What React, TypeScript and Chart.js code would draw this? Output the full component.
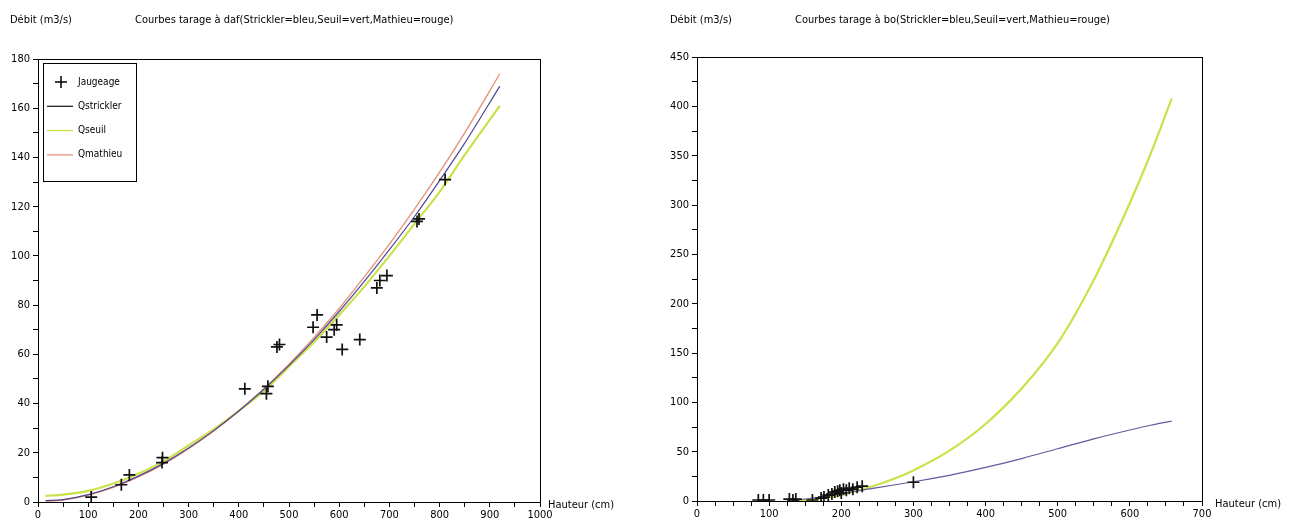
import { useEffect, useRef } from "react";
import { Chart, registerables } from "chart.js";

Chart.register(...registerables);

const FONT = '"Liberation Sans Narrow", "DejaVu Sans Condensed", "Arial Narrow", sans-serif';

// ---- Station daf : rating curves (hauteur en cm, débit en m3/s) ----
const dafHauteur = [15, 50, 100, 150, 200, 250, 300, 350, 400, 450, 500, 550, 600, 650, 700, 750, 800, 850, 920];
const dafQseuil = [2.5, 3, 4.5, 7.5, 11.5, 16.5, 23, 29.5, 37, 45, 55, 65, 76, 87.5, 100, 113, 126, 141, 161];
const dafQstrickler = [0.6, 1, 3, 6.2, 10.5, 15.7, 21.9, 29, 37, 45.8, 55.5, 66, 77.4, 89.6, 102.5, 116, 130.6, 145.8, 169];
const dafQmathieu = [0.2, 0.8, 2.8, 6, 10.2, 15.4, 21.7, 28.9, 37, 46, 56, 66.9, 78.6, 91.5, 104.8, 119, 134, 150, 174];

// Jaugeages (gaugings) at daf
const dafJaugeageH = [106, 166, 182, 247, 248, 412, 455, 458, 476, 481, 548, 556, 575, 590, 595, 606, 641, 675, 681, 695, 755, 759, 811];
const dafJaugeageQ = [2, 7, 11, 16, 18, 46, 44, 47, 63, 64, 71, 76, 67, 70, 72, 62, 66, 87, 90, 92, 114, 115, 131];

// ---- Station bo ----
const boHauteur = [130, 150, 175, 200, 225, 250, 275, 300, 350, 400, 450, 500, 550, 600, 630, 658];
const boQseuil = [0, 0.8, 3, 6.5, 11, 16.5, 23, 31, 51, 78, 114, 160, 224, 302, 354, 408];
const boQstrickler = [0, 2, 4.5, 7.5, 10.5, 13.5, 16.5, 19.5, 26, 34, 43, 53, 63, 72, 77, 81];

const boJaugeageH = [85, 92, 100, 128, 133, 137, 160, 172, 176, 182, 187, 191, 195, 198, 200, 203, 207, 211, 216, 222, 229, 300];
const boJaugeageQ = [1, 1, 1, 2, 1, 2, 1, 3, 4, 6, 7, 9, 10, 11, 8, 12, 11, 13, 12, 14, 15, 19];

// ---- Axis ticks ----
const dafXLabels = [0, 100, 200, 300, 400, 500, 600, 700, 800, 900, 1000];
const dafYLabels = [0, 20, 40, 60, 80, 100, 120, 140, 160, 180];
const boXLabels = [0, 100, 200, 300, 400, 500, 600, 700];
const boYLabels = [0, 50, 100, 150, 200, 250, 300, 350, 400, 450];

const COL_STRICKLER = "#4e4890";
const COL_SEUIL = "#cde04a";
const COL_MATHIEU = "#e8937c";

const pairs = (xs: number[], ys: number[]) => xs.map((x, i) => ({ x, y: ys[i] }));

type Texts = {
  yTitleX: number;
  titleX: number;
  title: string;
  xTitleX: number;
  legend: boolean;
};

function makeAnnotationPlugin(t: Texts) {
  return {
    id: "annotations",
    afterDraw(chart: any) {
      const ctx = chart.ctx as CanvasRenderingContext2D;
      const a = chart.chartArea;
      ctx.save();
      // plot frame
      ctx.strokeStyle = "#000";
      ctx.lineWidth = 1;
      ctx.strokeRect(Math.round(a.left) + 0.5, Math.round(a.top) + 0.5, Math.round(a.right - a.left), Math.round(a.bottom - a.top));

      ctx.fillStyle = "#000";
      ctx.font = `11px ${FONT}`;
      ctx.textBaseline = "middle";
      ctx.textAlign = "left";
      ctx.fillText("Débit (m3/s)", t.yTitleX, 20);
      ctx.fillText(t.title, t.titleX, 20);
      const y0 = chart.scales.y.getPixelForValue(0);
      ctx.fillText("Hauteur (cm)", t.xTitleX, y0 + 3);

      if (t.legend) {
        const bx = 43.5, by = 63.5, bw = 93, bh = 118;
        ctx.fillStyle = "#fff";
        ctx.fillRect(bx, by, bw, bh);
        ctx.strokeStyle = "#000";
        ctx.strokeRect(bx, by, bw, bh);
        const entries = [...chart.data.datasets].sort((p: any, q: any) => (p.legendIndex ?? 0) - (q.legendIndex ?? 0));
        entries.forEach((ds: any, i: number) => {
          const cy = 82 + i * 24.3;
          if (ds.showLine === false) {
            ctx.strokeStyle = "#000";
            ctx.lineWidth = 1.5;
            ctx.beginPath();
            ctx.moveTo(55, cy);
            ctx.lineTo(67, cy);
            ctx.moveTo(61, cy - 6);
            ctx.lineTo(61, cy + 6);
            ctx.stroke();
          } else {
            ctx.strokeStyle = ds.legendColor || ds.borderColor;
            ctx.lineWidth = 1.3;
            ctx.beginPath();
            ctx.moveTo(47, cy);
            ctx.lineTo(73, cy);
            ctx.stroke();
          }
          ctx.fillStyle = "#000";
          ctx.font = `10px ${FONT}`;
          ctx.fillText(ds.label, 78, cy);
        });
      }
      ctx.restore();
    },
  };
}

function lineSet(label: string, xs: number[], ys: number[], color: string, width: number, order: number, legendIndex: number, legendColor?: string) {
  return {
    label,
    data: pairs(xs, ys),
    showLine: true,
    borderColor: color,
    backgroundColor: color,
    borderWidth: width,
    pointRadius: 0,
    cubicInterpolationMode: "monotone" as const,
    order,
    legendIndex,
    legendColor,
  };
}

function gaugingSet(xs: number[], ys: number[]) {
  return {
    label: "Jaugeage",
    data: pairs(xs, ys),
    showLine: false,
    pointStyle: "cross",
    pointRadius: 6,
    borderColor: "#111",
    backgroundColor: "#111",
    pointBorderWidth: 1.7,
    order: 0,
    legendIndex: 0,
    clip: 0,
  };
}

function axes(xMax: number, xStep: number, xLabels: number[], yMax: number, yStep: number, yLabels: number[]) {
  const common = {
    type: "linear" as const,
    min: 0,
    border: { display: true, color: "#000", width: 1 },
    grid: { display: true, drawOnChartArea: false, drawTicks: true, tickLength: 5, color: "#000", tickColor: "#000" },
  };
  return {
    x: {
      ...common,
      max: xMax,
      ticks: {
        stepSize: xStep,
        autoSkip: false,
        maxRotation: 0,
        padding: 2,
        color: "#000",
        font: { family: FONT, size: 11 },
        callback: (v: any) => (xLabels.includes(Number(v)) ? String(v) : ""),
      },
      afterFit: (s: any) => {
        s.height = 21;
      },
    },
    y: {
      ...common,
      max: yMax,
      ticks: {
        stepSize: yStep,
        autoSkip: false,
        padding: 3,
        color: "#000",
        font: { family: FONT, size: 11 },
        callback: (v: any) => (yLabels.includes(Number(v)) ? String(v) : ""),
      },
      afterFit: (s: any) => {
        s.width = 38;
      },
    },
  };
}

function ChartCanvas({ width, config }: { width: number; config: any }) {
  const ref = useRef<HTMLCanvasElement | null>(null);
  useEffect(() => {
    if (!ref.current) return;
    const chart = new Chart(ref.current, config);
    return () => chart.destroy();
  }, []);
  return <canvas ref={ref} width={width} height={523} style={{ display: "block", width, height: 523 }} />;
}

export default function App() {
  const dafConfig = {
    type: "scatter",
    data: {
      datasets: [
        gaugingSet(dafJaugeageH, dafJaugeageQ),
        lineSet("Qstrickler", dafHauteur, dafQstrickler, COL_STRICKLER, 1.2, 1, 1, "#222"),
        lineSet("Qseuil", dafHauteur, dafQseuil, COL_SEUIL, 2.2, 3, 2),
        lineSet("Qmathieu", dafHauteur, dafQmathieu, COL_MATHIEU, 1.4, 2, 3),
      ],
    },
    options: {
      responsive: false,
      animation: false,
      devicePixelRatio: 1,
      layout: { padding: { left: 0, right: 105, top: 59, bottom: 0 } },
      plugins: { legend: { display: false }, tooltip: { enabled: false }, title: { display: false } },
      scales: axes(1000, 50, dafXLabels, 180, 10, dafYLabels),
    },
    plugins: [
      makeAnnotationPlugin({
        yTitleX: 10,
        titleX: 135,
        title: "Courbes tarage à daf(Strickler=bleu,Seuil=vert,Mathieu=rouge)",
        xTitleX: 548,
        legend: true,
      }),
    ],
  };

  const boConfig = {
    type: "scatter",
    data: {
      datasets: [
        gaugingSet(boJaugeageH, boJaugeageQ),
        lineSet("Qstrickler", boHauteur, boQstrickler, "#5f5ca0", 1.2, 1, 1),
        lineSet("Qseuil", boHauteur, boQseuil, COL_SEUIL, 2.2, 3, 2),
      ],
    },
    options: {
      responsive: false,
      animation: false,
      devicePixelRatio: 1,
      layout: { padding: { left: 14, right: 89, top: 57, bottom: 1 } },
      plugins: { legend: { display: false }, tooltip: { enabled: false }, title: { display: false } },
      scales: axes(700, 25, boXLabels, 450, 25, boYLabels),
    },
    plugins: [
      makeAnnotationPlugin({
        yTitleX: 25,
        titleX: 150,
        title: "Courbes tarage à bo(Strickler=bleu,Seuil=vert,Mathieu=rouge)",
        xTitleX: 570,
        legend: false,
      }),
    ],
  };

  return (
    <div style={{ position: "fixed", left: 0, top: 0, width: 1291, height: 523, background: "#fff", display: "flex" }}>
      <ChartCanvas width={645} config={dafConfig} />
      <ChartCanvas width={646} config={boConfig} />
    </div>
  );
}
